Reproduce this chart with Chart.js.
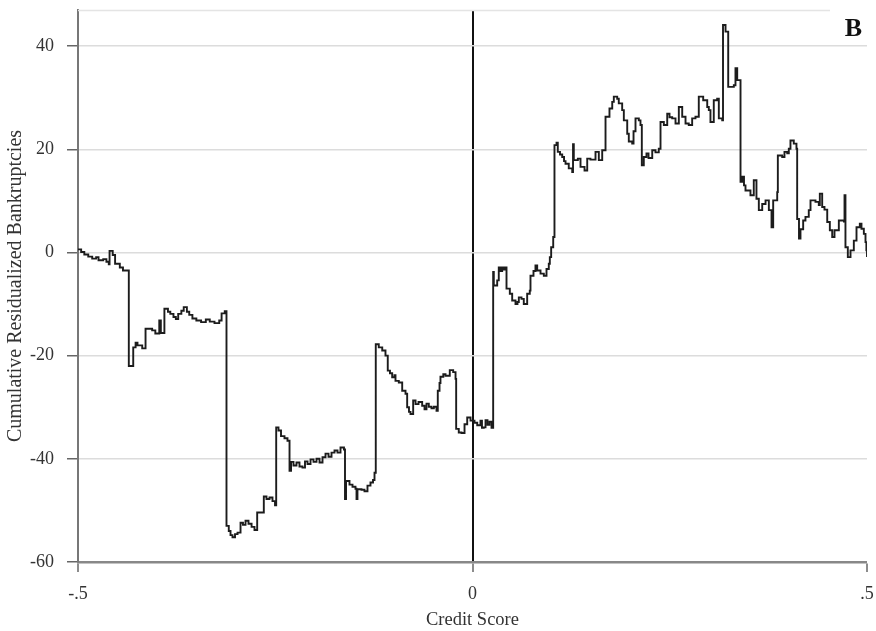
<!DOCTYPE html>
<html>
<head>
<meta charset="utf-8">
<script src="https://cdn.jsdelivr.net/npm/chart.js@4"></script>
<style>
html,body{margin:0;padding:0;background:#fff;}
#wrap{width:876px;height:631px;}
</style>
</head>
<body>
<div id="wrap"><canvas id="c" width="876" height="631"></canvas></div>
<script>
// Credit score (running variable) at which each new level of the cumulative sum starts
const creditScore = [
-0.500,-0.496,-0.492,-0.487,-0.482,-0.477,-0.474,-0.468,-0.464,-0.461,-0.460,-0.456,-0.453,-0.447,-0.443,-0.4356,
-0.430,-0.427,-0.4246,-0.4186,-0.4144,-0.406,-0.402,-0.397,-0.395,-0.3905,-0.386,-0.383,-0.379,-0.376,-0.373,-0.369,-0.366,-0.362,-0.359,-0.355,-0.350,-0.344,-0.338,-0.333,-0.327,-0.321,-0.318,-0.314,-0.3118,
-0.3089,-0.3067,-0.3042,-0.301,-0.2978,-0.294,-0.2909,-0.2877,-0.2839,-0.280,-0.2763,-0.2729,-0.2645,-0.2611,-0.2573,-0.2535,-0.2503,-0.2488,-0.2459,-0.2427,-0.2383,-0.2345,-0.2319,-0.230,-0.2269,-0.2231,-0.2193,-0.2155,-0.2123,-0.2091,-0.2053,-0.2015,-0.1977,-0.1939,-0.1901,-0.1863,-0.1825,-0.1787,-0.1749,-0.1711,-0.1673,-0.1629,-0.1616,-0.1603,-0.1559,-0.1521,-0.1483,-0.147,-0.1458,-0.1407,-0.1369,-0.1331,-0.1293,-0.1261,-0.1242,-0.1226,
-0.1188,-0.1144,-0.1103,-0.1074,-0.1046,-0.1018,-0.0989,-0.0976,-0.0934,-0.0891,-0.0849,-0.0828,-0.0805,-0.0786,-0.0752,-0.0722,-0.0684,-0.0638,-0.0608,-0.0583,-0.0554,-0.052,-0.049,-0.0456,-0.044,-0.0418,-0.0406,-0.037,-0.0342,-0.0288,-0.0245,-0.0215,-0.0207,-0.0174,-0.0139,-0.0101,-0.0067,-0.0025,0.0025,0.006,0.0101,0.012,0.0143,0.0165,0.019,0.0215,0.0241,0.0262,
0.027,0.0313,0.0333,0.0355,0.0376,0.0399,0.0418,0.0431,0.0473,0.0503,0.0545,0.057,0.0587,0.0621,0.065,0.0693,0.0726,0.0735,0.0773,0.0798,0.082,0.0862,0.0904,0.0938,0.0967,0.098,0.0997,0.1023,0.1039,
0.1065,0.1081,0.1109,0.1137,0.116,0.1179,0.122,0.1264,0.1274,0.1284,0.1335,0.1369,0.142,0.1454,0.1495,0.1559,0.1601,0.1644,0.1686,0.1736,0.1771,0.1791,0.1834,0.1854,0.1897,0.1918,0.1961,0.1981,0.2024,0.2041,0.2066,0.2108,0.2129,0.2146,0.2171,0.2205,0.2231,0.2278,0.2319,0.2361,0.2383,0.2425,0.2468,0.2497,0.2531,0.2573,0.2615,0.2658,0.27,0.2741,0.2784,0.2826,0.2868,0.2924,0.2975,0.2995,0.3016,0.3058,0.3101,0.3122,0.3165,0.3175,0.3207,0.3241,0.3312,0.3333,0.3355,0.3397,
0.3418,0.3441,0.346,0.3523,0.3565,0.3599,0.3629,0.3672,0.3714,0.3756,0.379,0.3811,0.3862,0.387,0.3925,0.3954,0.3989,0.4009,0.403,0.4072,0.4106,0.4115,0.4138,0.4157,0.4191,0.422,0.4262,0.4284,0.4347,0.4389,0.4402,0.4432,0.4461,0.4496,0.4529,0.4559,0.4588,0.4643,0.4708,0.4715,0.4727,0.4757,0.4791,0.4833,0.4867,0.4909,0.493,0.496,0.4981,0.4992,0.500
];
// Cumulative residualized bankruptcies (level starting at each credit score above)
const cumBankruptcies = [
0.6,0.1,-0.4,-0.8,-1.2,-0.9,-1.5,-1.3,-1.8,-2.3,0.3,-0.5,-2.2,-2.9,-3.5,-22.0,
-18.4,-17.5,-18.0,-18.6,-14.8,-15.1,-15.7,-13.2,-15.6,-10.9,-11.5,-11.9,-12.5,-12.9,-11.9,-11.3,-10.6,-11.5,-12.1,-12.8,-13.2,-13.5,-13.0,-13.4,-13.7,-13.2,-11.8,-11.4,-53.0,
-54.0,-54.8,-55.2,-54.6,-54.3,-52.4,-52.8,-52.0,-52.6,-53.2,-53.8,-50.4,-47.3,-47.8,-47.5,-48.2,-49.0,-33.9,-34.5,-35.6,-36.0,-36.5,-42.3,-40.6,-41.3,-40.7,-41.5,-41.7,-40.5,-41.0,-40.1,-40.6,-40.0,-40.7,-39.7,-39.0,-39.6,-38.8,-38.4,-38.8,-37.8,-38.2,-47.8,-44.3,-45.0,-45.4,-45.8,-47.8,-45.9,-46.0,-46.3,-45.2,-44.6,-44.1,-42.7,-17.8,
-18.4,-19.0,-20.0,-22.9,-23.4,-24.2,-23.8,-24.9,-25.2,-26.8,-27.4,-30.0,-30.9,-31.3,-28.7,-29.4,-29.0,-29.7,-30.4,-29.3,-29.9,-30.2,-29.9,-30.7,-26.8,-25.3,-24.1,-23.6,-23.9,-22.8,-23.2,-24.5,-34.2,-34.9,-35.0,-33.3,-32.0,-32.6,-33.0,-33.5,-32.6,-34.0,-33.9,-32.5,-33.4,-32.8,-34.0,-3.8,
-6.4,-5.4,-2.9,-3.6,-2.9,-3.3,-2.9,-7.0,-8.0,-9.3,-10.0,-9.6,-8.7,-9.0,-10.0,-8.0,-7.4,-4.5,-3.6,-2.5,-3.5,-4.1,-4.5,-3.2,-2.2,-0.9,1.0,3.0,20.8,
21.3,19.5,19.0,18.5,17.7,17.2,16.3,15.6,21.0,17.9,18.2,16.6,15.9,18.2,18.0,19.5,17.9,19.8,26.3,27.9,29.2,30.2,29.8,28.9,27.6,25.6,23.0,21.5,21.1,23.5,26.0,25.6,24.7,16.9,18.5,19.2,18.3,19.8,19.4,20.1,25.3,24.7,26.9,26.2,26.0,25.0,28.2,26.3,25.0,24.7,26.0,26.3,30.2,29.5,28.2,27.6,25.3,29.5,29.8,26.0,25.6,44.1,42.8,32.1,32.4,35.7,33.4,13.7,
14.7,13.0,12.0,11.1,14.0,10.4,8.2,9.4,10.1,8.2,4.9,10.1,11.7,18.8,18.5,19.5,19.2,20.1,21.7,21.1,20.1,6.5,2.7,4.5,6.2,6.9,8.2,10.1,9.8,9.2,11.4,8.8,8.3,5.9,4.3,3.0,4.3,6.2,6.0,11.1,1.0,-0.9,0.4,2.3,4.9,5.6,4.6,3.6,2.0,0.4,-0.9
];
const xTicks = [-0.5, 0, 0.5];
const xTickLabels = ['-.5', '0', '.5'];
const yTickValues = [-60, -40, -20, 0, 20, 40];
const panelLabel = 'B';

const serif = '"Liberation Serif", "Times New Roman", serif';

const extras = {
  id: 'extras',
  afterDraw(chart) {
    const {ctx, chartArea} = chart;
    ctx.save();
    // top border of the panel (light)
    ctx.strokeStyle = '#e4e4e4';
    ctx.lineWidth = 1.5;
    ctx.beginPath();
    ctx.moveTo(chartArea.left, chartArea.top + 0.5);
    ctx.lineTo(chartArea.right - 37, chartArea.top + 0.5);
    ctx.stroke();
    // panel letter
    ctx.fillStyle = '#111';
    ctx.font = 'bold 26px ' + serif;
    ctx.textAlign = 'right';
    ctx.textBaseline = 'alphabetic';
    ctx.fillText(panelLabel, chartArea.right - 5, chartArea.top + 26);
    ctx.restore();
  }
};

const pts = creditScore.map((x, i) => ({x: x, y: cumBankruptcies[i]}));

new Chart(document.getElementById('c'), {
  type: 'line',
  data: {
    datasets: [{
      data: pts,
      stepped: true,
      borderColor: '#1c1c1c',
      borderWidth: 1.9,
      pointRadius: 0,
      fill: false
    }]
  },
  options: {
    responsive: false,
    animation: false,
    devicePixelRatio: 1,
    layout: {padding: {top: 10, right: 9, left: 0, bottom: 0}},
    plugins: {legend: {display: false}, tooltip: {enabled: false}},
    scales: {
      x: {
        type: 'linear',
        min: -0.5, max: 0.5,
        afterFit(scale) { scale.height = 69; scale.paddingLeft = 0; scale.paddingRight = 0; },
        afterBuildTicks(scale) { scale.ticks = xTicks.map(v => ({value: v})); },
        ticks: {
          callback: (v) => xTickLabels[xTicks.indexOf(v)],
          font: {family: serif, size: 18},
          color: '#333',
          padding: 11,
          maxRotation: 0
        },
        grid: {
          drawOnChartArea: true,
          color: (c) => (c.tick && c.tick.value === 0) ? '#111' : 'rgba(0,0,0,0)',
          lineWidth: (c) => (c.tick && c.tick.value === 0) ? 2 : 0,
          tickColor: '#666',
          tickLength: 10,
          tickWidth: 1.5
        },
        border: {display: true, color: '#888', width: 2.5},
        title: {display: true, text: 'Credit Score', font: {family: serif, size: 18.5}, color: '#333', padding: {top: 0, bottom: 0}}
      },
      y: {
        type: 'linear',
        min: -60, max: 47,
        afterFit(scale) { scale.width = 78; scale.paddingTop = 0; scale.paddingBottom = 0; },
        afterBuildTicks(scale) { scale.ticks = yTickValues.map(v => ({value: v})); },
        ticks: {
          callback: (v) => String(v),
          font: {family: serif, size: 18},
          color: '#333',
          padding: 13
        },
        grid: {
          color: (c) => (c.tick && c.tick.value === -60) ? 'rgba(0,0,0,0)' : '#dcdcdc',
          lineWidth: 1.5,
          tickColor: '#666',
          tickLength: 11,
          tickWidth: 1.5
        },
        border: {display: true, color: '#777', width: 2},
        title: {display: true, text: 'Cumulative Residualized Bankruptcies', font: {family: serif, size: 20}, color: '#333', padding: {top: 4, bottom: 0}}
      }
    }
  },
  plugins: [extras]
});
</script>
</body>
</html>
